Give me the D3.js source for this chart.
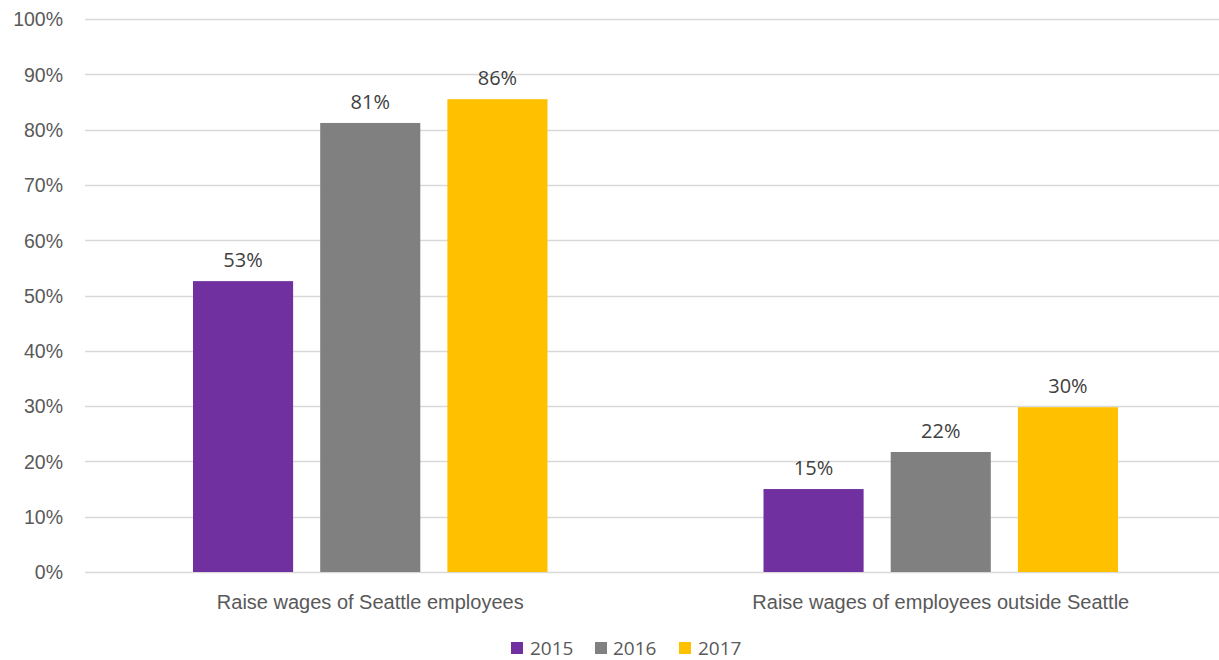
<!DOCTYPE html>
<html>
<head>
<meta charset="utf-8">
<script src="https://cdn.jsdelivr.net/npm/d3@7"></script>
<style>
  html, body { margin: 0; padding: 0; background: #fff; }
  svg { display: block; font-family: "Open Sans", "Noto Sans", sans-serif; }
</style>
</head>
<body>
<svg id="chart" width="1219" height="660"></svg>
<script>
const categories = ["Raise wages of Seattle employees", "Raise wages of employees outside Seattle"];
const seriesNames = ["2015", "2016", "2017"];
const values2015 = [0.526, 0.150];
const values2016 = [0.812, 0.217];
const values2017 = [0.855, 0.298];
const labels2015 = ["53%", "15%"];
const labels2016 = ["81%", "22%"];
const labels2017 = ["86%", "30%"];
const colors = ["#7030A0", "#808080", "#FFC000"];
const yTicks = [0, 0.1, 0.2, 0.3, 0.4, 0.5, 0.6, 0.7, 0.8, 0.9, 1.0];

const seriesValues = [values2015, values2016, values2017];
const seriesLabels = [labels2015, labels2016, labels2017];

const svg = d3.select("#chart");
const mLeft = 85, mRight = 1226, mTop = 19, mBottom = 572;

const y = d3.scaleLinear().domain([0, 1]).range([mBottom, mTop]);
const x0 = d3.scaleBand().domain(categories).range([mLeft, mRight]).paddingInner(0).paddingOuter(0);
const groupInnerLeft = 108;
const x1 = d3.scaleBand().domain(seriesNames)
  .range([groupInnerLeft, x0.bandwidth() - groupInnerLeft])
  .paddingInner(0.213).paddingOuter(0);

// gridlines
svg.append("g")
  .selectAll("line").data(yTicks).join("line")
  .attr("x1", mLeft).attr("x2", 1219)
  .attr("y1", d => Math.round(y(d)) + 0.5).attr("y2", d => Math.round(y(d)) + 0.5)
  .attr("stroke", "#d9d9d9").attr("stroke-width", 1.3);

// y axis labels
const yAxis = d3.axisLeft(y).tickValues(yTicks).tickFormat(d3.format(".0%")).tickSize(0).tickPadding(0);
const yg = svg.append("g").attr("transform", `translate(${63},0)`).call(yAxis);
yg.select(".domain").remove();
yg.selectAll("text").attr("fill", "#595959").style("font-size", "19.5px").attr("dy", "0.35em");

// bars
const groups = svg.append("g").selectAll("g").data(categories).join("g")
  .attr("transform", d => `translate(${x0(d)},0)`);

seriesNames.forEach((s, si) => {
  groups.append("rect")
    .attr("x", x1(s))
    .attr("width", x1.bandwidth())
    .attr("y", (d, ci) => y(seriesValues[si][ci]))
    .attr("height", (d, ci) => y(0) - y(seriesValues[si][ci]))
    .attr("fill", colors[si]);
  groups.append("text")
    .attr("x", x1(s) + x1.bandwidth() / 2)
    .attr("y", (d, ci) => y(seriesValues[si][ci]) - 14)
    .attr("text-anchor", "middle")
    .attr("fill", "#404040")
    .style("font-size", "20px")
    .text((d, ci) => seriesLabels[si][ci]);
});

// x category labels
const xAxis = d3.axisBottom(x0).tickSize(0).tickPadding(0);
const xg = svg.append("g").attr("transform", `translate(0,${609})`).call(xAxis);
xg.select(".domain").remove();
xg.selectAll("text").attr("fill", "#595959").style("font-size", "20px").attr("dy", "0");

// legend
const legendX = [511, 595, 679];
const legendTextX = [530, 613, 698];
const lg = svg.append("g");
seriesNames.forEach((s, i) => {
  lg.append("rect").attr("x", legendX[i]).attr("y", 642).attr("width", 12).attr("height", 12).attr("fill", colors[i]);
  lg.append("text").attr("x", legendTextX[i]).attr("y", 654.5).attr("fill", "#595959").style("font-size", "19px").text(s);
});
</script>
</body>
</html>
